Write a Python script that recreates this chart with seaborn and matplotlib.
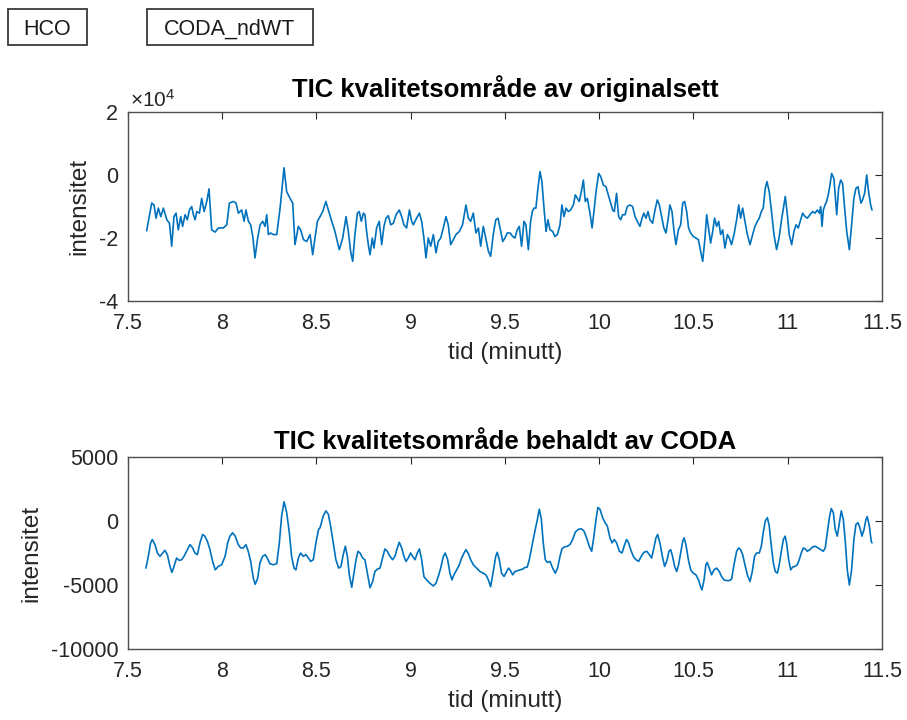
import numpy as np
import matplotlib
matplotlib.use("Agg")
import matplotlib.pyplot as plt
import seaborn as sns
from matplotlib.patches import Rectangle
from matplotlib.ticker import FuncFormatter

# ---- TIC quality region, original set (intensity in units of 1e4) ----
time_orig = [
    7.599, 7.626, 7.638, 7.649, 7.661, 7.674, 7.688, 7.706, 7.720, 7.732,
    7.744, 7.755, 7.767, 7.780, 7.790, 7.803, 7.815, 7.826, 7.838, 7.847,
    7.856, 7.865, 7.879, 7.891, 7.904, 7.918, 7.930, 7.944, 7.962, 7.980,
    8.006, 8.024, 8.038, 8.059, 8.073, 8.086, 8.103, 8.116, 8.126, 8.139,
    8.151, 8.162, 8.174, 8.188, 8.201, 8.215, 8.227, 8.236, 8.245, 8.257,
    8.271, 8.289, 8.307, 8.328, 8.342, 8.360, 8.374, 8.386, 8.404, 8.416,
    8.431, 8.448, 8.466, 8.480, 8.492, 8.505, 8.519, 8.533, 8.550, 8.563,
    8.581, 8.598, 8.621, 8.639, 8.657, 8.669, 8.681, 8.692, 8.704, 8.717,
    8.727, 8.738, 8.749, 8.757, 8.766, 8.775, 8.784, 8.796, 8.805, 8.819,
    8.833, 8.846, 8.858, 8.869, 8.881, 8.894, 8.908, 8.922, 8.939, 8.952,
    8.964, 8.978, 8.993, 9.005, 9.014, 9.031, 9.046, 9.058, 9.070, 9.081,
    9.093, 9.106, 9.120, 9.134, 9.146, 9.159, 9.173, 9.187, 9.199, 9.212,
    9.226, 9.240, 9.258, 9.275, 9.293, 9.306, 9.318, 9.332, 9.346, 9.359,
    9.371, 9.385, 9.398, 9.412, 9.424, 9.438, 9.451, 9.463, 9.474, 9.488,
    9.500, 9.512, 9.527, 9.541, 9.553, 9.565, 9.576, 9.588, 9.601, 9.611,
    9.624, 9.636, 9.645, 9.654, 9.664, 9.675, 9.686, 9.696, 9.707, 9.718,
    9.728, 9.739, 9.753, 9.765, 9.778, 9.792, 9.802, 9.813, 9.824, 9.836,
    9.848, 9.863, 9.873, 9.884, 9.894, 9.905, 9.916, 9.926, 9.937, 9.951,
    9.962, 9.972, 9.983, 9.997, 10.008, 10.022, 10.036, 10.048, 10.061, 10.071,
    10.080, 10.092, 10.103, 10.114, 10.124, 10.137, 10.149, 10.163, 10.177, 10.190,
    10.202, 10.216, 10.227, 10.237, 10.248, 10.259, 10.269, 10.283, 10.296, 10.308,
    10.319, 10.331, 10.343, 10.354, 10.365, 10.375, 10.386, 10.397, 10.407, 10.420,
    10.432, 10.443, 10.453, 10.464, 10.474, 10.485, 10.499, 10.513, 10.526, 10.538,
    10.549, 10.561, 10.570, 10.580, 10.591, 10.602, 10.612, 10.623, 10.634, 10.644,
    10.655, 10.667, 10.680, 10.690, 10.702, 10.715, 10.729, 10.740, 10.750, 10.761,
    10.773, 10.786, 10.800, 10.814, 10.826, 10.839, 10.849, 10.860, 10.870, 10.881,
    10.890, 10.902, 10.915, 10.927, 10.941, 10.954, 10.966, 10.977, 10.987, 10.998,
    11.008, 11.021, 11.033, 11.044, 11.056, 11.069, 11.079, 11.092, 11.104, 11.118,
    11.132, 11.145, 11.157, 11.168, 11.175, 11.182, 11.189, 11.198, 11.206, 11.215,
    11.224, 11.233, 11.245, 11.260, 11.270, 11.281, 11.291, 11.302, 11.313, 11.327,
    11.339, 11.351, 11.362, 11.373, 11.380, 11.389, 11.397, 11.408, 11.419, 11.429,
    11.440, 11.447,
]
tic_orig_e4 = [
    -1.77, -0.89, -0.95, -1.37, -1.05, -1.32, -1.05, -1.42, -1.53, -2.26,
    -1.32, -1.21, -1.74, -1.32, -1.63, -1.26, -1.42, -1.11, -1.00, -1.26,
    -1.42, -1.16, -1.21, -0.74, -1.16, -0.84, -0.44, -1.74, -1.81, -1.68,
    -1.68, -1.58, -0.89, -0.84, -0.89, -1.21, -1.11, -1.47, -1.11, -1.47,
    -1.58, -1.95, -2.63, -2.00, -1.58, -1.47, -1.63, -1.26, -1.89, -1.84,
    -1.89, -1.89, -1.05, 0.23, -0.53, -0.74, -0.89, -2.21, -1.63, -1.74,
    -2.05, -2.11, -1.89, -2.53, -2.00, -1.47, -1.32, -1.16, -0.84, -1.11,
    -1.47, -1.79, -2.37, -2.00, -1.32, -1.79, -2.42, -2.74, -1.89, -1.21,
    -1.16, -1.47, -1.21, -1.26, -1.79, -2.21, -2.53, -2.00, -2.32, -1.68,
    -1.47, -2.21, -1.63, -1.37, -1.29, -1.58, -1.53, -1.26, -1.11, -1.32,
    -1.58, -1.68, -1.11, -1.47, -1.58, -1.37, -1.21, -1.47, -2.00, -2.63,
    -2.00, -2.26, -1.89, -2.47, -2.11, -2.00, -1.68, -1.32, -1.58, -2.21,
    -2.05, -1.89, -1.79, -1.58, -0.95, -1.37, -1.47, -1.21, -1.84, -1.68,
    -2.26, -1.63, -2.00, -2.42, -2.58, -1.89, -1.42, -1.37, -1.68, -2.11,
    -2.00, -1.84, -1.84, -1.95, -2.00, -1.74, -1.63, -2.26, -1.47, -1.58,
    -2.37, -1.47, -1.16, -1.05, -1.05, -0.42, 0.11, -0.21, -1.05, -1.79,
    -1.42, -1.74, -1.79, -1.95, -1.89, -1.58, -0.95, -1.32, -1.05, -1.16,
    -1.11, -0.95, -0.63, -0.74, -0.84, -0.53, -0.16, -0.84, -0.74, -1.21,
    -1.68, -1.16, -0.53, 0.05, -0.05, -0.32, -0.37, -0.63, -0.89, -1.11,
    -1.16, -0.58, -1.32, -1.42, -1.26, -1.26, -1.00, -0.95, -1.00, -1.32,
    -1.47, -1.63, -1.37, -1.21, -1.37, -1.16, -1.42, -1.53, -1.11, -0.79,
    -0.95, -1.32, -1.68, -1.84, -1.42, -0.95, -1.16, -1.79, -2.21, -1.74,
    -1.58, -0.89, -0.84, -1.16, -1.68, -1.84, -1.95, -2.00, -2.05, -2.42,
    -2.74, -2.00, -1.26, -1.68, -2.16, -1.79, -1.37, -1.63, -1.47, -1.89,
    -1.74, -2.32, -1.89, -2.00, -2.21, -1.89, -1.42, -0.95, -1.37, -1.05,
    -1.47, -1.89, -2.21, -1.89, -1.63, -1.47, -1.37, -1.16, -1.05, -0.42,
    -0.21, -0.53, -1.21, -1.89, -2.37, -2.00, -1.47, -1.05, -0.68, -1.26,
    -1.89, -2.21, -1.79, -1.58, -1.68, -1.42, -1.21, -1.32, -1.37, -1.26,
    -1.16, -1.21, -1.11, -1.21, -1.00, -1.63, -1.11, -0.95, -0.84, -0.63,
    -0.32, 0.05, -0.11, -1.26, -0.42, -0.16, -0.26, -1.05, -1.79, -2.37,
    -1.58, -0.74, -0.42, -0.37, -0.63, -0.89, -0.79, -0.58, 0.00, -0.53,
    -0.95, -1.11,
]

# ---- TIC quality region kept by CODA ----
time_coda = [
    7.595, 7.608, 7.620, 7.629, 7.643, 7.656, 7.670, 7.684, 7.696, 7.709,
    7.723, 7.733, 7.744, 7.758, 7.772, 7.785, 7.797, 7.811, 7.829, 7.843,
    7.855, 7.868, 7.882, 7.896, 7.908, 7.921, 7.935, 7.949, 7.963, 7.979,
    7.997, 8.015, 8.029, 8.041, 8.055, 8.069, 8.085, 8.098, 8.112, 8.126,
    8.138, 8.151, 8.165, 8.175, 8.188, 8.200, 8.214, 8.227, 8.239, 8.253,
    8.271, 8.289, 8.303, 8.315, 8.328, 8.342, 8.356, 8.368, 8.381, 8.391,
    8.404, 8.416, 8.430, 8.444, 8.457, 8.469, 8.483, 8.497, 8.511, 8.519,
    8.536, 8.550, 8.563, 8.575, 8.589, 8.603, 8.618, 8.630, 8.642, 8.653,
    8.664, 8.674, 8.687, 8.699, 8.710, 8.720, 8.731, 8.745, 8.757, 8.770,
    8.784, 8.798, 8.810, 8.823, 8.837, 8.851, 8.863, 8.876, 8.890, 8.904,
    8.916, 8.929, 8.939, 8.952, 8.964, 8.975, 8.987, 8.999, 9.010, 9.023,
    9.035, 9.046, 9.058, 9.070, 9.084, 9.102, 9.120, 9.134, 9.146, 9.159,
    9.173, 9.183, 9.196, 9.208, 9.219, 9.229, 9.244, 9.258, 9.270, 9.283,
    9.293, 9.306, 9.318, 9.332, 9.350, 9.367, 9.385, 9.399, 9.412, 9.424,
    9.438, 9.451, 9.459, 9.470, 9.482, 9.495, 9.509, 9.519, 9.527, 9.541,
    9.553, 9.565, 9.580, 9.594, 9.606, 9.618, 9.629, 9.643, 9.657, 9.672,
    9.682, 9.693, 9.703, 9.714, 9.725, 9.739, 9.753, 9.767, 9.779, 9.792,
    9.802, 9.815, 9.831, 9.845, 9.859, 9.873, 9.889, 9.905, 9.919, 9.933,
    9.947, 9.960, 9.972, 9.983, 9.993, 10.004, 10.018, 10.031, 10.043, 10.057,
    10.068, 10.080, 10.092, 10.107, 10.121, 10.135, 10.145, 10.156, 10.167, 10.181,
    10.195, 10.209, 10.223, 10.237, 10.252, 10.266, 10.278, 10.290, 10.301, 10.310,
    10.322, 10.335, 10.347, 10.358, 10.370, 10.379, 10.389, 10.400, 10.411, 10.421,
    10.432, 10.443, 10.450, 10.460, 10.473, 10.485, 10.499, 10.513, 10.527, 10.538,
    10.545, 10.556, 10.566, 10.573, 10.584, 10.596, 10.609, 10.623, 10.637, 10.649,
    10.662, 10.676, 10.690, 10.702, 10.715, 10.729, 10.740, 10.750, 10.761, 10.773,
    10.786, 10.800, 10.812, 10.824, 10.835, 10.849, 10.860, 10.870, 10.881, 10.892,
    10.902, 10.913, 10.924, 10.934, 10.945, 10.955, 10.966, 10.977, 10.986, 10.994,
    11.005, 11.016, 11.026, 11.038, 11.051, 11.061, 11.072, 11.083, 11.093, 11.104,
    11.118, 11.132, 11.146, 11.160, 11.175, 11.189, 11.199, 11.210, 11.221, 11.231,
    11.242, 11.252, 11.263, 11.274, 11.284, 11.295, 11.306, 11.316, 11.327, 11.339,
    11.351, 11.362, 11.373, 11.383, 11.394, 11.405, 11.415, 11.422, 11.433, 11.443,
    11.447,
]
tic_coda = [
    -3682, -2762, -1709, -1447, -1841, -2499, -2762, -2499, -2288, -2630,
    -3551, -4024, -3551, -2893, -3077, -3025, -2762, -2367, -1841, -2104,
    -2499, -2630, -1709, -1052, -1184, -1578, -2236, -3156, -3814, -3551,
    -3419, -2762, -1709, -1184, -920, -1184, -1841, -2104, -2104, -1841,
    -2367, -3156, -4471, -4944, -4471, -3288, -2762, -2630, -2893, -3340,
    -3419, -3340, -1709, 395, 1499, 658, -920, -2762, -3682, -3814,
    -2893, -2499, -2762, -2630, -2893, -3156, -3025, -1709, -658, -526,
    395, 789, 526, -395, -1709, -3025, -3682, -3551, -2630, -1972,
    -2762, -4208, -5181, -4076, -3025, -2367, -2499, -2893, -3025, -4076,
    -5207, -4734, -3945, -3761, -3682, -2893, -2183, -2367, -2762, -3025,
    -2762, -2104, -1657, -2104, -2762, -3156, -2893, -2499, -2762, -3025,
    -2499, -2183, -3025, -4340, -4603, -4866, -5076, -4866, -4340, -3682,
    -2762, -2499, -3025, -4076, -4603, -4208, -3814, -3419, -2893, -2499,
    -2236, -2551, -3025, -3419, -3682, -3945, -4076, -4208, -4603, -5129,
    -3945, -2762, -2446, -3025, -4076, -4340, -3945, -3682, -3814, -4208,
    -3945, -3892, -3814, -3761, -3629, -3603, -3025, -1972, -920, 132,
    920, 132, -1709, -3025, -3235, -3156, -3682, -4076, -3682, -2762,
    -2183, -2025, -1972, -1841, -1447, -868, -658, -605, -789, -1315,
    -1972, -2367, -1184, 132, 1052, 920, 263, -132, -395, -1315,
    -1709, -1447, -1709, -2367, -2499, -1841, -1447, -1709, -2236, -2762,
    -3025, -3156, -2762, -2446, -2367, -2630, -2893, -2104, -1315, -1052,
    -1709, -2762, -3551, -3156, -2367, -2236, -2762, -3551, -3945, -3419,
    -2499, -1578, -1315, -1841, -3025, -3814, -4076, -4208, -4603, -5129,
    -5392, -4603, -3419, -3235, -3682, -4208, -3814, -3682, -3945, -4340,
    -4603, -4655, -4655, -4550, -3419, -2367, -2104, -2236, -2630, -3419,
    -4208, -4734, -3945, -2762, -2499, -2499, -1972, -920, 0, 263,
    -395, -1972, -3288, -3945, -4076, -3419, -2367, -1447, -1184, -1709,
    -3025, -3814, -3603, -3551, -3419, -3025, -2499, -2104, -2183, -2367,
    -2236, -2025, -1972, -2104, -2236, -2367, -2104, -920, 263, 973,
    658, -658, -1184, -132, 789, 132, -1709, -3814, -4997, -3814,
    -1447, -263, -132, -526, -1184, -658, 132, 342, -395, -1578,
    -1709,
]

panel_titles = ["TIC kvalitetsområde av originalsett",
                "TIC kvalitetsområde behaldt av CODA"]
x_label = "tid (minutt)"
y_label = "intensitet"
x_ticks = [7.5, 8, 8.5, 9, 9.5, 10, 10.5, 11, 11.5]
y_ticks_orig = [-4e4, -2e4, 0, 2e4]
y_ticks_coda = [-10000, -5000, 0, 5000]
orig_exponent = 4
header_labels = ["HCO", "CODA_ndWT"]

line_color = "#0072BD"
ink = "#262626"
frame = "#4d4d4d"

sns.set_theme(style="white")
plt.rcParams["font.family"] = ["Liberation Sans", "DejaVu Sans"]
plt.rcParams["axes.unicode_minus"] = False
plt.rcParams["mathtext.fontset"] = "custom"
plt.rcParams["mathtext.rm"] = "Liberation Sans"
plt.rcParams["mathtext.it"] = "Liberation Sans:italic"
plt.rcParams["mathtext.bf"] = "Liberation Sans:bold"

fig = plt.figure(figsize=(9.07, 7.2), dpi=100)
fig.patch.set_facecolor("white")

ax_top = fig.add_axes([0.1411, 0.5819, 0.8313, 0.2625])
ax_bot = fig.add_axes([0.1411, 0.0986, 0.8313, 0.2667])

orig_values = np.array(tic_orig_e4) * 10.0 ** orig_exponent

sns.lineplot(x=time_orig, y=orig_values, ax=ax_top, color=line_color,
             linewidth=1.2, estimator=None, errorbar=None, sort=False)
sns.lineplot(x=time_coda, y=tic_coda, ax=ax_bot, color=line_color,
             linewidth=1.2, estimator=None, errorbar=None, sort=False)

g_fmt = FuncFormatter(lambda v, p: f"{v:g}")
exp_fmt = FuncFormatter(lambda v, p: f"{v / 10.0 ** orig_exponent:g}")

for ax, yt, title, tpad in [(ax_top, y_ticks_orig, panel_titles[0], 11),
                            (ax_bot, y_ticks_coda, panel_titles[1], 6)]:
    ax.set_xlim(7.5, 11.5)
    ax.set_ylim(yt[0], yt[-1])
    ax.set_xticks(x_ticks)
    ax.set_yticks(yt)
    ax.xaxis.set_major_formatter(g_fmt)
    ax.tick_params(axis="both", direction="in", length=5, width=0.8,
                   color=ink, labelcolor=ink, labelsize=15.5,
                   top=True, right=True)
    ax.tick_params(axis="x", pad=8.5)
    ax.tick_params(axis="y", pad=7)
    for s in ax.spines.values():
        s.set_visible(True)
        s.set_color(frame)
        s.set_linewidth(1.0)
    ax.set_xlabel(x_label, fontsize=17.5, color=ink, labelpad=6)
    ax.set_ylabel(y_label, fontsize=17.5, color=ink, labelpad=6)
    ax.set_title(title, fontsize=18.5, fontweight="bold", color="black", pad=tpad)
    ax.grid(False)

ax_top.yaxis.set_major_formatter(exp_fmt)
ax_bot.yaxis.set_major_formatter(g_fmt)
ax_top.text(0.003, 1.008, r"$\times10^{%d}$" % orig_exponent,
            transform=ax_top.transAxes, ha="left", va="bottom",
            fontsize=15, color=ink)

# header buttons above the panels
W, H = 907.0, 720.0
for label, (x0, x1) in zip(header_labels, [(8, 87), (147, 313)]):
    y0, y1 = 9, 45
    rect = Rectangle((x0 / W, 1 - y1 / H), (x1 - x0) / W, (y1 - y0) / H,
                     transform=fig.transFigure, facecolor="white",
                     edgecolor="#3a3a3a", linewidth=1.3)
    fig.add_artist(rect)
    fig.text((x0 + x1) / 2 / W, 1 - 35 / H, label,
             ha="center", va="baseline", fontsize=15.5, color="#1a1a1a")

fig.savefig("out.png", dpi=100, facecolor="white")
